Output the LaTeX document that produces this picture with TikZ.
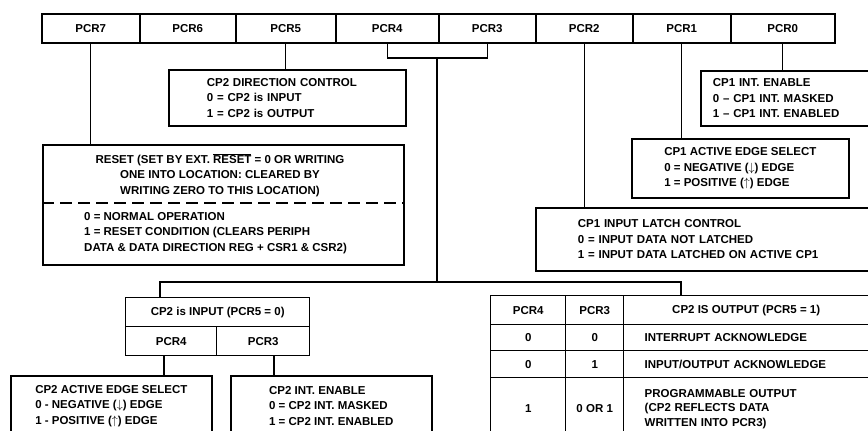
\documentclass[tikz,border=0pt]{standalone}
\usepackage{fontspec}
\setmainfont{Liberation Sans}
\usetikzlibrary{calc}
\begin{document}
\begin{tikzpicture}[x=1pt,y=-1pt,
  txt/.style={font=\fontsize{11.5}{15.5}\selectfont\bfseries},
  reg/.style={txt,draw,line width=1.6pt,minimum height=29pt,inner sep=0pt,anchor=north west},
  box/.style={txt,draw,line width=1.6pt,inner sep=0pt,align=left,anchor=north west},
  cell/.style={txt,draw,line width=1.4pt,inner sep=0pt,anchor=north west},
  conn/.style={line width=1.1pt}]
\clip (0,0) rectangle (868,431);
\fill[white] (0,0) rectangle (868,431);
% register
\node[reg,minimum width=98pt]  (p7) at (41,13)  {PCR7};
\node[reg,minimum width=96pt]  (p6) at (139,13) {PCR6};
\node[reg,minimum width=100pt] (p5) at (235,13) {PCR5};
\node[reg,minimum width=103pt] (p4) at (335,13) {PCR4};
\node[reg,minimum width=97pt]  (p3) at (438,13) {PCR3};
\node[reg,minimum width=97pt]  (p2) at (535,13) {PCR2};
\node[reg,minimum width=98pt]  (p1) at (632,13) {PCR1};
\node[reg,minimum width=104pt] (p0) at (730,13) {PCR0};
% boxes
\node[box,minimum width=237pt,minimum height=56pt,text width=161pt,inner xsep=38pt] (dir) at (168,69)
  {CP2 DIRECTION CONTROL\\0 = CP2 is INPUT\\1 = CP2 is OUTPUT};
\node[box,minimum width=168pt,minimum height=55pt,text width=144pt,inner xsep=12pt] (int1) at (700,70)
  {CP1 INT. ENABLE\\0 -- CP1 INT. MASKED\\1 -- CP1 INT. ENABLED};
\node[box,minimum width=217pt,minimum height=59pt] (edge1) at (631,138)
  {CP1 ACTIVE EDGE SELECT\\0 = NEGATIVE ($\downarrow$) EDGE\\1 = POSITIVE ($\uparrow$) EDGE};
\node[box,minimum width=340pt,minimum height=63pt,text width=256pt,inner xsep=42pt] (latch) at (535,207)
  {CP1 INPUT LATCH CONTROL\\0 = INPUT DATA NOT LATCHED\\1 = INPUT DATA LATCHED ON ACTIVE CP1};
% reset box
\node[box,minimum width=361pt,minimum height=120pt] (reset) at (42,144) {};
\node[txt,align=center] (rtitle) at (220,175)
  {RESET (SET BY EXT. $\overline{\mbox{RESET}}$ = 0 OR WRITING\\ONE INTO LOCATION: CLEARED BY\\WRITING ZERO TO THIS LOCATION)};
\node[txt,align=left,anchor=west,inner sep=0pt] (rbody) at (84,233)
  {0 = NORMAL OPERATION\\1 = RESET CONDITION (CLEARS PERIPH\\DATA \& DATA DIRECTION REG + CSR1 \& CSR2)};
\draw[line width=1.6pt,dash pattern=on 12pt off 6pt] ($(reset.west)+(0,-2)$) -- ($(reset.east)+(0,-2)$);
% CP2 input block
\node[cell,minimum width=184pt,minimum height=29pt] (inp) at (125,297) {CP2 is INPUT (PCR5 = 0)};
\node[cell,minimum width=91pt,minimum height=29pt] (i4) at (125,326) {PCR4};
\node[cell,minimum width=93pt,minimum height=29pt] (i3) at (216,326) {PCR3};
\node[box,minimum width=201pt,minimum height=60pt] (edge2) at (10,375)
  {CP2 ACTIVE EDGE SELECT\\0 - NEGATIVE ($\downarrow$) EDGE\\1 - POSITIVE ($\uparrow$) EDGE};
\node[box,minimum width=201pt,minimum height=60pt] (int2) at (230,375)
  {CP2 INT. ENABLE\\0 = CP2 INT. MASKED\\1 = CP2 INT. ENABLED};
% output table
\node[cell,minimum width=75pt,minimum height=29pt] (h1) at (490,295) {PCR4};
\node[cell,minimum width=58pt,minimum height=29pt] (h2) at (565,295) {PCR3};
\node[cell,minimum width=245pt,minimum height=29pt] (h3) at (623,295) {CP2 IS OUTPUT (PCR5 = 1)};
\node[cell,minimum width=75pt,minimum height=26pt] (a1) at (490,324) {0};
\node[cell,minimum width=58pt,minimum height=26pt] (a2) at (565,324) {0};
\node[cell,minimum width=245pt,minimum height=26pt,text width=203pt,inner xsep=21pt,align=left] (a3) at (623,324) {INTERRUPT ACKNOWLEDGE};
\node[cell,minimum width=75pt,minimum height=27pt] (b1) at (490,350) {0};
\node[cell,minimum width=58pt,minimum height=27pt] (b2) at (565,350) {1};
\node[cell,minimum width=245pt,minimum height=27pt,text width=203pt,inner xsep=21pt,align=left] (b3) at (623,350) {INPUT/OUTPUT ACKNOWLEDGE};
\node[cell,minimum width=75pt,minimum height=62pt] (c1) at (490,377) {1};
\node[cell,minimum width=58pt,minimum height=62pt] (c2) at (565,377) {0 OR 1};
\node[cell,minimum width=245pt,minimum height=62pt,text width=203pt,inner xsep=21pt,align=left,font=\fontsize{11.5}{14.5}\selectfont\bfseries] (c3) at (623,377)
  {PROGRAMMABLE OUTPUT\\(CP2 REFLECTS DATA\\WRITTEN INTO PCR3)};
% connectors
\draw[conn] (p7.south) -- (p7.south |- reset.north);
\draw[conn] (p5.south) -- (p5.south |- dir.north);
\draw[conn] (p2.south) -- (p2.south |- latch.north);
\draw[conn] (p1.south) -- (p1.south |- edge1.north);
\draw[conn] (p0.south) -- (p0.south |- int1.north);
\coordinate (j) at (437,58);
\coordinate (k) at (437,282);
\draw[conn] (p4.south) |- (j) -| (p3.south);
\draw[conn] (j) -- (k);
\draw[conn] ([xshift=35pt]inp.north west) |- (k) -| ([xshift=58pt]h3.north west);
\draw[conn] ([xshift=39pt]i4.south west) -- ([xshift=39pt]i4.south west |- edge2.north);
\draw[conn] ([xshift=58pt]i3.south west) -- ([xshift=58pt]i3.south west |- int2.north);
\end{tikzpicture}
\end{document}
